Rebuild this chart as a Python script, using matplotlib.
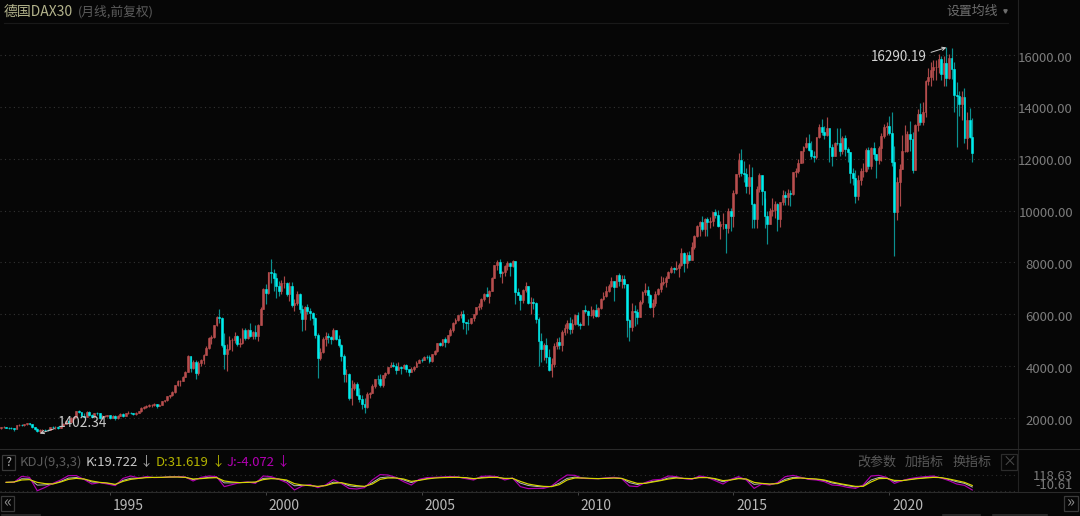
from __future__ import annotations

import matplotlib

matplotlib.use("Agg")
import matplotlib.pyplot as plt
import numpy as np
from matplotlib.lines import Line2D
from matplotlib.patches import Rectangle

WIDTH, HEIGHT = 1080, 516
BG = "#060606"

FIRST_OPEN = 1620

# monthly candles, Jul 1991 - Sep 2022, one row per year
CLOSES = [
    1640, 1660, 1620, 1610, 1600, 1578,
    1720, 1740, 1720, 1750, 1800, 1750, 1640, 1560, 1517, 1530, 1550, 1545,
    1540, 1650, 1640, 1660, 1620, 1700, 1780, 1900, 1850, 2010, 2030, 2267,
    2240, 2090, 2050, 2220, 2100, 2050, 2190, 2180, 2000, 2060, 2080, 2107,
    2010, 2090, 1990, 2090, 2170, 2060, 2200, 2210, 2180, 2140, 2210, 2254,
    2400, 2420, 2480, 2490, 2490, 2530, 2480, 2500, 2640, 2680, 2830, 2889,
    3000, 3260, 3430, 3440, 3590, 3790, 4400, 3930, 4170, 3750, 4120, 4250,
    4440, 4710, 5100, 5110, 5570, 5900, 5870, 4830, 4470, 4670, 4990, 5002,
    5150, 4870, 4880, 5390, 5070, 5380, 5150, 5320, 5150, 5600, 6220, 6958,
    6835, 7640, 7600, 7410, 7110, 6900, 7190, 7190, 6800, 7080, 6370, 6434,
    6795, 6208, 5829, 6264, 6123, 6058, 5861, 5188, 4308, 4559, 5045, 5160,
    5108, 5039, 5397, 5041, 4818, 4383, 3700, 3712, 2769, 3153, 3320, 2893,
    2748, 2547, 2424, 2942, 2983, 3221, 3487, 3485, 3257, 3656, 3745, 3965,
    4059, 4018, 3857, 3985, 3921, 4052, 3895, 3785, 3893, 3960, 4126, 4256,
    4254, 4350, 4349, 4185, 4461, 4586, 4887, 4830, 5044, 4929, 5193, 5408,
    5674, 5797, 5970, 6009, 5692, 5683, 5682, 5859, 6004, 6268, 6309, 6597,
    6789, 6715, 6917, 7409, 7883, 8007, 7584, 7638, 7861, 7993, 7870, 8067,
    6851, 6748, 6535, 6949, 7097, 6418, 6479, 6422, 5831, 4988, 4669, 4810,
    4338, 3844, 4085, 4769, 4941, 4808, 5332, 5465, 5675, 5414, 5625, 5957,
    5608, 5598, 6154, 6136, 5964, 5966, 6148, 5925, 6229, 6601, 6688, 6914,
    7077, 7272, 7041, 7514, 7294, 7376, 7158, 5785, 5502, 6141, 6089, 5898,
    6458, 6856, 6947, 6761, 6264, 6416, 6772, 6970, 7216, 7260, 7405, 7612,
    7776, 7741, 7795, 7914, 8348, 7959, 8276, 8103, 8594, 9033, 9405, 9552,
    9306, 9692, 9556, 9603, 9943, 9833, 9407, 9470, 9474, 9326, 9980, 9806,
    10694, 11402, 11966, 11454, 11413, 10945, 11308, 10259, 9660, 10850, 11382, 10743,
    9798, 9495, 9966, 10039, 10263, 9680, 10337, 10593, 10511, 10665, 10640, 11481,
    11535, 11834, 12313, 12438, 12615, 12325, 12118, 12056, 12829, 13230, 13024, 12918,
    13189, 12436, 12097, 12612, 12605, 12306, 12806, 12364, 12247, 11447, 11257, 10559,
    11173, 11516, 11526, 12344, 11727, 12399, 12189, 11939, 12428, 12867, 13236, 13249,
    12982, 11890, 9936, 11107, 11587, 12311, 12313, 12945, 12761, 11556, 13291, 13719,
    13432, 13786, 15008, 15136, 15421, 15531, 15544, 15835, 15261, 15688, 15100, 15885,
    15471, 14461, 14415, 14098, 14388, 12784, 13484, 12835, 12220,
]
HIGHS = [
    1660, 1690, 1670, 1640, 1650, 1620,
    1730, 1770, 1780, 1770, 1810, 1820, 1760, 1650, 1600, 1570, 1570, 1590,
    1590, 1660, 1690, 1680, 1680, 1710, 1790, 1910, 1930, 2020, 2060, 2270,
    2290, 2250, 2200, 2280, 2260, 2160, 2210, 2250, 2190, 2120, 2130, 2130,
    2130, 2110, 2100, 2110, 2190, 2180, 2210, 2260, 2250, 2200, 2230, 2270,
    2420, 2470, 2510, 2540, 2530, 2560, 2540, 2530, 2650, 2710, 2840, 2900,
    3030, 3280, 3480, 3470, 3620, 3800, 4440, 4390, 4230, 4250, 4180, 4290,
    4470, 4770, 5110, 5190, 5580, 5950, 6220, 5900, 5280, 4860, 5150, 5100,
    5300, 5220, 5080, 5480, 5480, 5420, 5670, 5350, 5580, 5640, 6290, 7000,
    7170, 7650, 8136, 7730, 7580, 7300, 7340, 7490, 7230, 7250, 7260, 6600,
    6880, 6810, 6360, 6330, 6400, 6250, 6100, 5880, 5290, 4700, 5120, 5330,
    5290, 5160, 5460, 5400, 5210, 4850, 4450, 3900, 3740, 3480, 3380, 3390,
    3160, 2880, 2780, 3000, 3010, 3320, 3490, 3640, 3680, 3660, 3780, 3970,
    4160, 4160, 4110, 4150, 3990, 4080, 4090, 3820, 3970, 3990, 4190, 4270,
    4310, 4400, 4440, 4420, 4470, 4630, 4910, 4940, 5060, 5140, 5220, 5470,
    5710, 5840, 5990, 6140, 6160, 5710, 5800, 5870, 6010, 6290, 6440, 6610,
    6830, 7040, 6940, 7420, 7890, 8090, 8151, 7670, 7900, 8040, 8030, 8100,
    8050, 7000, 6770, 6970, 7230, 7100, 6660, 6610, 6460, 5900, 5280, 4900,
    5100, 4680, 4300, 4880, 5090, 5120, 5380, 5610, 5770, 5890, 5830, 6030,
    6100, 5700, 6180, 6340, 6160, 6320, 6200, 6390, 6300, 6620, 6870, 7080,
    7180, 7440, 7300, 7530, 7600, 7500, 7520, 7180, 5800, 6430, 6350, 6200,
    6540, 6890, 7190, 7080, 6780, 6600, 6900, 7030, 7480, 7420, 7480, 7670,
    7870, 7820, 8060, 7960, 8560, 8420, 8400, 8440, 8770, 9050, 9430, 9590,
    9790, 9710, 9740, 9740, 9950, 10050, 10030, 9590, 9890, 9480, 10080, 10090,
    10810, 11400, 12220, 12390, 11920, 11630, 11800, 11670, 10300, 10930, 11430, 11390,
    10490, 9990, 10100, 10490, 10350, 10300, 10340, 10800, 10760, 10830, 10800, 11480,
    11640, 12000, 12310, 12490, 12850, 12950, 12680, 12300, 12830, 13340, 13530, 13280,
    13600, 13200, 12550, 12650, 13200, 13170, 12890, 12900, 12460, 12250, 11650, 11550,
    11370, 11630, 11830, 12400, 12440, 12440, 12660, 12180, 12490, 12990, 13350, 13430,
    13640, 13790, 12500, 11300, 11800, 12910, 13310, 13060, 13460, 13040, 13340, 13900,
    14130, 14170, 15050, 15500, 15730, 15800, 15810, 16030, 15950, 15950, 16290.19, 16030,
    16285, 15740, 14950, 14600, 14600, 14710, 13820, 13950, 13567,
]
LOWS = [
    1590, 1620, 1600, 1580, 1560, 1510,
    1570, 1700, 1690, 1700, 1740, 1730, 1630, 1530, 1470, 1402.34, 1480, 1500,
    1500, 1530, 1610, 1590, 1590, 1610, 1690, 1770, 1790, 1840, 1960, 2020,
    2180, 2060, 2020, 2040, 2060, 1990, 2030, 2120, 1960, 1980, 2020, 2030,
    1980, 2000, 1910, 1980, 2080, 2050, 2060, 2170, 2150, 2110, 2130, 2200,
    2250, 2360, 2400, 2440, 2440, 2480, 2400, 2460, 2490, 2610, 2660, 2780,
    2840, 2970, 3220, 3230, 3410, 3570, 3760, 3760, 3900, 3490, 3660, 4020,
    4100, 4420, 4680, 4860, 5070, 5540, 5650, 4730, 3900, 3830, 4620, 4580,
    4900, 4780, 4720, 4870, 5000, 5040, 5110, 5050, 5040, 4960, 5580, 6220,
    6380, 6800, 7200, 6900, 6630, 6700, 6800, 7000, 6720, 6510, 6300, 6110,
    6340, 6060, 5340, 5390, 6000, 5790, 5600, 5100, 3540, 4230, 4500, 4780,
    4900, 4850, 5020, 5000, 4740, 4180, 3400, 3400, 2700, 2520, 3090, 2850,
    2600, 2360, 2190, 2390, 2790, 2970, 3150, 3300, 3210, 3180, 3560, 3710,
    3950, 3970, 3690, 3840, 3710, 3900, 3780, 3620, 3780, 3820, 3950, 4110,
    4150, 4240, 4260, 4110, 4160, 4440, 4530, 4780, 4790, 4750, 4880, 5170,
    5310, 5640, 5730, 5860, 5420, 5240, 5390, 5630, 5730, 5970, 6180, 6220,
    6530, 6660, 6430, 6900, 7390, 7690, 7450, 7190, 7480, 7720, 7490, 7810,
    6384, 6730, 6170, 6450, 6850, 6410, 6000, 6220, 5650, 4014, 4150, 4250,
    4120, 3810, 3588, 3970, 4680, 4660, 4570, 5190, 5290, 5250, 5270, 5590,
    5540, 5430, 5600, 6060, 5600, 5940, 5860, 5900, 5900, 6190, 6560, 6680,
    6850, 7060, 6510, 7040, 7100, 7000, 7020, 5120, 4965, 5360, 5560, 5640,
    5900, 6400, 6760, 6450, 6240, 5910, 6330, 6740, 6870, 7120, 7040, 7400,
    7590, 7580, 7700, 7420, 7880, 7650, 7780, 8070, 8110, 8530, 8980, 9000,
    9200, 9020, 9000, 9310, 9400, 9720, 9370, 8900, 9300, 8355, 9130, 9220,
    9380, 10620, 11290, 11340, 11090, 10680, 10650, 9338, 9310, 9340, 10710, 10200,
    9310, 8699, 9480, 9800, 9700, 9214, 9370, 10200, 10200, 10200, 10170, 10600,
    11300, 11460, 11820, 11830, 12400, 12300, 12000, 11860, 12000, 12800, 12900, 12770,
    12860, 11870, 11730, 12100, 12530, 12100, 12200, 12100, 11860, 11050, 10980, 10280,
    10390, 11000, 11300, 11500, 11620, 11620, 12000, 11260, 11800, 11900, 12780, 12900,
    12900, 11720, 8255, 9620, 10160, 11600, 12250, 12250, 12300, 11450, 11560, 13060,
    13310, 13300, 13600, 14830, 14820, 15050, 15050, 15320, 15020, 14820, 14810, 15060,
    15060, 13810, 12439, 13660, 13500, 12610, 12390, 12810, 11862,
]

# KDJ read once a quarter
KDJ_K = [
    57, 59, 86, 85, 35, 37, 46, 65, 91, 96, 83, 60, 56, 49, 38, 73, 90, 90, 98, 96, 97, 100,
    101, 98, 79, 90, 97, 98, 53, 53, 55, 58, 56, 89, 92, 83, 69, 30, 33, 34, 22, 33, 59,
    53, 30, 22, 22, 55, 94, 100, 94, 77, 55, 76, 88, 94, 97, 99, 98, 92, 83, 96, 101, 99,
    85, 90, 51, 32, 25, 20, 25, 51, 89, 99, 91, 88, 87, 90, 94, 88, 55, 40, 51, 65, 74,
    92, 96, 88, 85, 99, 96, 82, 62, 78, 92, 81, 41, 47, 41, 50, 82, 97, 94, 85, 81,
    72, 52, 42, 30, 20, 29, 76, 96, 92, 65, 71, 82, 90, 96, 101, 94, 80, 62, 49, 20,
]
KDJ_D = [
    57, 60, 76, 79, 57, 47, 44, 60, 81, 89, 84, 68, 57, 52, 41, 65, 81, 89, 95, 97, 97, 100,
    100, 97, 84, 87, 92, 95, 68, 60, 55, 57, 60, 79, 87, 84, 76, 47, 36, 31, 25, 31, 49,
    55, 41, 31, 25, 44, 81, 92, 92, 84, 65, 73, 84, 92, 95, 97, 97, 95, 87, 92, 97, 97,
    89, 89, 65, 44, 33, 25, 23, 39, 76, 92, 92, 89, 87, 89, 92, 89, 68, 49, 49, 60, 71,
    84, 92, 89, 87, 95, 95, 87, 71, 76, 87, 84, 57, 49, 44, 47, 71, 89, 92, 87, 84,
    76, 60, 47, 36, 25, 25, 60, 87, 89, 73, 71, 79, 87, 92, 97, 95, 84, 71, 57, 32,
]
KDJ_J = [
    57, 57, 105, 97, -10, 17, 49, 76, 111, 111, 81, 44, 55, 44, 31, 89, 108, 92, 103, 95, 97, 100,
    103, 100, 68, 97, 108, 103, 23, 39, 55, 60, 49, 108, 103, 81, 55, -4, 28, 39, 15, 36, 79,
    49, 9, 4, 15, 76, 119, 116, 97, 63, 36, 81, 95, 97, 100, 103, 100, 87, 76, 105, 108, 103,
    76, 92, 23, 7, 9, 9, 28, 76, 116, 113, 89, 87, 87, 92, 97, 87, 28, 23, 55, 76, 81,
    108, 103, 87, 81, 108, 97, 71, 44, 81, 103, 76, 9, 44, 36, 55, 103, 113, 97, 81, 76,
    63, 36, 31, 17, 9, 36, 108, 113, 97, 49, 71, 87, 97, 103, 108, 92, 71, 44, 33, -4,
]

PRICE_TICKS = [2000, 4000, 6000, 8000, 10000, 12000, 14000, 16000]
YEAR_LABELS = ["1995", "2000", "2005", "2010", "2015", "2020"]
YEAR_MONTH_INDEX = [42, 102, 162, 222, 282, 342]
KDJ_BOUNDS = [118.63, -10.61]


def px_axes(fig, left, top, right, bottom):
    return fig.add_axes(
        [left / WIDTH, 1 - bottom / HEIGHT, (right - left) / WIDTH, (bottom - top) / HEIGHT],
        facecolor="none",
    )


def px_text(fig, x, y, text, **kw):
    kw.setdefault("va", "center")
    kw.setdefault("fontsize", 9.4)
    fig.text(x / WIDTH, 1 - y / HEIGHT, text, **kw)


def px_line(fig, x0, y0, x1, y1, color="#242424", lw=0.8):
    fig.add_artist(
        Line2D([x0 / WIDTH, x1 / WIDTH], [1 - y0 / HEIGHT, 1 - y1 / HEIGHT], color=color, lw=lw)
    )


def px_box(fig, left, top, right, bottom, edge="#3a3a3a"):
    fig.add_artist(
        Rectangle(
            (left / WIDTH, 1 - bottom / HEIGHT),
            (right - left) / WIDTH,
            (bottom - top) / HEIGHT,
            transform=fig.transFigure,
            facecolor="none",
            edgecolor=edge,
            lw=0.9,
        )
    )


def draw_candles(ax):
    closes = np.array(CLOSES, dtype=float)
    highs = np.array(HIGHS, dtype=float)
    lows = np.array(LOWS, dtype=float)
    opens = np.r_[FIRST_OPEN, closes[:-1]]
    idx = np.arange(len(closes))
    up = closes >= opens

    ax.vlines(idx[up], lows[up], highs[up], color="#a84848", lw=0.85, zorder=2)
    ax.vlines(idx[~up], lows[~up], highs[~up], color="#0b8f8f", lw=0.85, zorder=2)
    ax.bar(idx[up], (closes - opens)[up], bottom=opens[up], width=0.72,
           color="#b84e4e", edgecolor="#b84e4e", lw=0.4, zorder=3)
    ax.bar(idx[~up], (closes - opens)[~up], bottom=opens[~up], width=0.72,
           color="#00eeee", edgecolor="#00eeee", lw=0.4, zorder=3)


def plot_price(fig):
    ax = px_axes(fig, 0, 23, 1018, 449)
    draw_candles(ax)
    ax.set_xlim(-0.36, 391.6)
    ax.set_ylim(804.5, 17234)
    ax.set_yticks(PRICE_TICKS)
    ax.set_xticks([])
    ax.tick_params(axis="y", left=False, labelleft=False)
    ax.grid(axis="y", color="#333333", linestyle=(0, (1, 3)), lw=0.8, zorder=0)
    for spine in ax.spines.values():
        spine.set_visible(False)

    for tick in PRICE_TICKS:
        ax.annotate(
            f"{tick:.2f}",
            xy=(1, tick),
            xycoords=("axes fraction", "data"),
            xytext=(39.6, -2.2),
            textcoords="offset points",
            ha="right",
            va="center",
            fontsize=9.5,
            color="#7c7c7c",
            annotation_clip=False,
        )

    arrow = {"arrowstyle": "->", "color": "#d0d0d0", "lw": 0.7, "shrinkA": 0, "shrinkB": 0, "mutation_scale": 6}
    ax.annotate("", xy=(364, 16290.19), xytext=(-11, -3.5), textcoords="offset points", arrowprops=arrow)
    ax.annotate("", xy=(15, 1402.34), xytext=(10.5, 3.5), textcoords="offset points", arrowprops=arrow)
    px_text(fig, 871, 57, "16290.19", color="#d4d4d4", fontsize=9.7)
    px_text(fig, 58, 423, "1402.34", color="#c8c8c8", fontsize=9.9)


def plot_kdj(fig):
    ax = px_axes(fig, 0, 473, 1018, 492)
    quarters = np.arange(2, 375, 3)
    ax.plot(quarters, KDJ_K, color="#b8b8b8", lw=0.7, zorder=3)
    ax.plot(quarters, KDJ_J, color="#b000b0", lw=0.85, zorder=3)
    ax.plot(quarters, KDJ_D, color="#d6d600", lw=0.85, zorder=4)
    for value in KDJ_BOUNDS:
        ax.axhline(value, color="#2c2c2c", linestyle=(0, (1, 3)), lw=0.8, zorder=1)
    ax.set_xlim(-0.36, 391.6)
    ax.set_ylim(-20, 132)
    ax.set_yticks([])
    ax.set_xticks(YEAR_MONTH_INDEX)
    ax.set_xticklabels([])
    ax.tick_params(axis="x", length=2, width=0.7, color="#444444")
    for spine in ax.spines.values():
        spine.set_visible(False)
    for month, label in zip(YEAR_MONTH_INDEX, YEAR_LABELS):
        ax.annotate(
            label,
            xy=(month, 0),
            xycoords=("data", "axes fraction"),
            xytext=(2.2, -10),
            textcoords="offset points",
            ha="left",
            va="center",
            fontsize=10,
            color="#b8b8b8",
            annotation_clip=False,
        )


def draw_chrome(fig):
    px_line(fig, 4, 23, 1008, 23, color="#191919")
    px_line(fig, 1018, 0, 1018, 492, color="#222222")
    px_line(fig, 0, 449, 1080, 449, color="#2a2a2a")
    px_line(fig, 0, 492, 1080, 492, color="#2a2a2a")
    for x0, x1 in [(2, 40), (943, 980), (993, 1047)]:
        px_line(fig, x0, 515, x1, 515, color="#2e2e2e", lw=1.2)

    px_text(fig, 4, 12, "德国DAX30", color="#b4b48c", fontsize=10)
    px_text(fig, 78, 12, "(月线,前复权)", color="#5c5c5c", fontsize=9.2)
    px_text(fig, 946, 11, "设置均线", color="#6e6e6e", fontsize=9.3)
    fig.add_artist(Line2D([1004.5 / WIDTH], [1 - 11 / HEIGHT], marker="v", ms=2.4, color="#6e6e6e"))

    px_box(fig, 2, 455, 15, 470)
    px_text(fig, 8.5, 462, "?", color="#b0b0b0", ha="center", fontsize=9)
    px_text(fig, 20, 462, "KDJ(9,3,3)", color="#5c5c5c")
    px_text(fig, 86, 462, "K:19.722", color="#c8c8c8")
    px_text(fig, 139, 462, "↓", color="#a8a8a8")
    px_text(fig, 156, 462, "D:31.619", color="#b4b400")
    px_text(fig, 211, 462, "↓", color="#b4b400")
    px_text(fig, 227, 462, "J:-4.072", color="#b400b4")
    px_text(fig, 276, 462, "↓", color="#b400b4")

    px_text(fig, 857, 462, "改参数", color="#585858")
    px_text(fig, 905, 462, "加指标", color="#585858")
    px_text(fig, 953, 462, "换指标", color="#585858")
    px_box(fig, 1001, 454, 1017, 470, edge="#2c2c2c")
    px_text(fig, 1009, 461.5, "×", color="#4c4c4c", ha="center", fontsize=10)

    px_text(fig, 1073, 476, "118.63", color="#7a7a7a", ha="right")
    px_text(fig, 1073, 485.5, "-10.61", color="#7a7a7a", ha="right")

    px_box(fig, 1, 496, 14, 511)
    px_text(fig, 7.5, 503, "«", color="#8a8a8a", ha="center", fontsize=12)
    px_box(fig, 1064, 496, 1078, 511)
    px_text(fig, 1071, 503, "»", color="#8a8a8a", ha="center", fontsize=12)


def main():
    plt.rcParams["font.family"] = ["Noto Sans CJK SC", "DejaVu Sans"]
    fig = plt.figure(figsize=(WIDTH / 100, HEIGHT / 100), dpi=100, facecolor=BG)
    plot_price(fig)
    plot_kdj(fig)
    draw_chrome(fig)
    fig.savefig("out.png", dpi=100, facecolor=BG)


if __name__ == "__main__":
    main()
